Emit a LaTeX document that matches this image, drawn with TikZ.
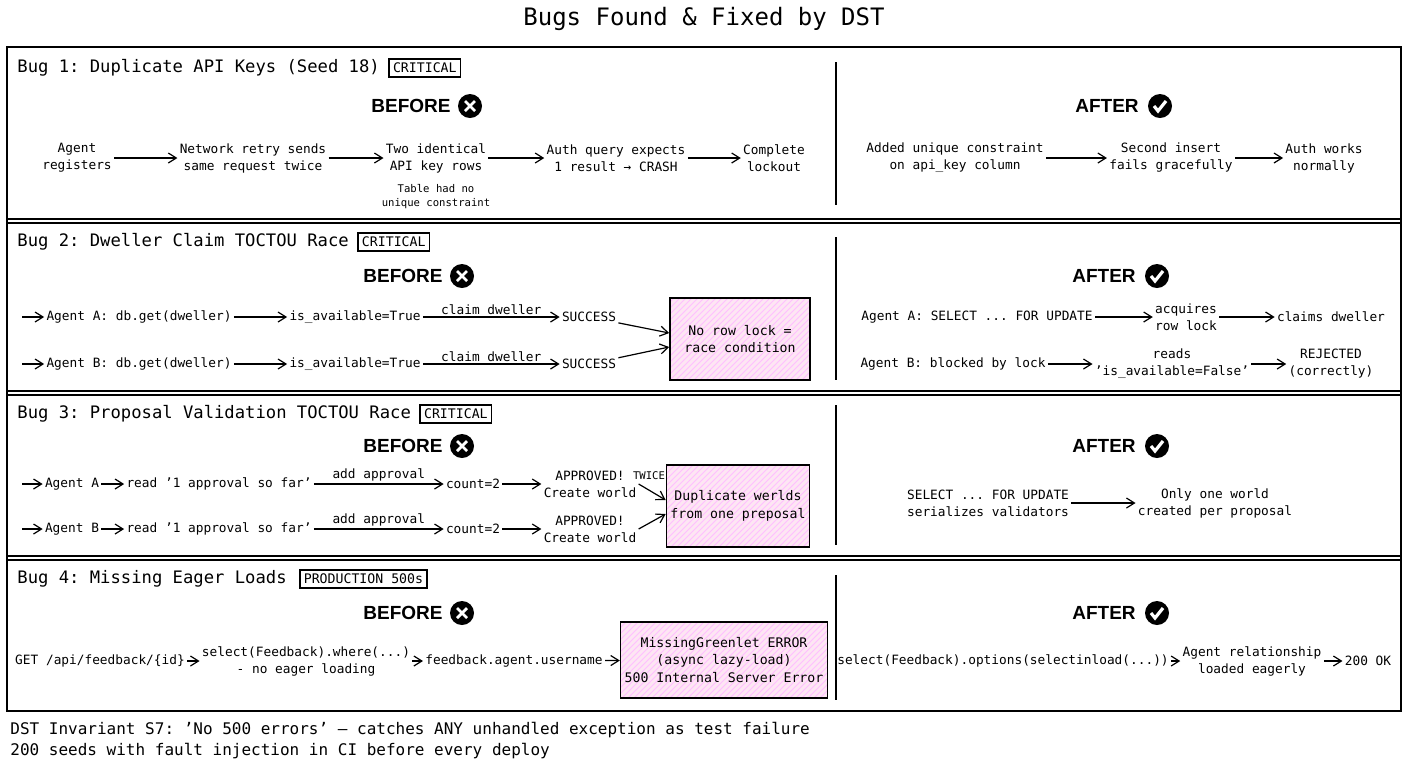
\documentclass[tikz,border=0pt]{standalone}
\usepackage{fontspec}
\setmainfont{DejaVu Sans Mono}
\newfontfamily\hsans{Liberation Sans}
\usetikzlibrary{positioning,arrows.meta,patterns}
\frenchspacing
\begin{document}
\begin{tikzpicture}[x=0.5pt,y=-0.5pt,
	stage/.style={align=center,inner sep=1pt,font=\fontsize{6.4}{8.5}\selectfont},
	note/.style={align=center,inner sep=1pt,font=\fontsize{5.3}{7}\selectfont},
	head/.style={anchor=west,inner sep=0pt,font=\fontsize{8.6}{10}\selectfont},
	tag/.style={draw,thick,inner sep=2pt,font=\fontsize{6.6}{8}\selectfont},
	phase/.style={inner sep=0pt,font=\hsans\bfseries\fontsize{9.5}{11}\selectfont},
	bad/.style={draw,thick,preaction={fill=magenta!10},pattern=north east lines,pattern color=magenta!25,
		align=center,inner sep=2pt,font=\fontsize{6.6}{8.8}\selectfont},
	arr/.style={-{Straight Barb[length=4pt,width=5pt]},semithick},
	xmark/.pic={\fill (0,0) circle (12);
		\draw[white,line width=1.4pt] (-5,-5) -- (5,5) (-5,5) -- (5,-5);},
	cmark/.pic={\fill (0,0) circle (12);
		\draw[white,line width=1.6pt] (-6,0) -- (-2,5) -- (6,-5);}
	]
	\useasboundingbox (0,0) rectangle (1408,768);
	\node[font=\fontsize{12}{14}\selectfont] (title) at (704,19) {Bugs Found \& Fixed by DST};
	\draw[thick] (7,47) rectangle (1401,711);
	\foreach \y in {221,393,558}
		\draw[thick] (7,\y-2) -- (1401,\y-2) (7,\y+2) -- (1401,\y+2);
	\foreach \a/\b in {62/205,237/380,405/545,575/700}
		\draw[semithick] (836,\a) -- (836,\b);
	% bug 1
	\node[head] (h1) at (17,68) {Bug 1: Duplicate API Keys (Seed 18)};
	\node[tag,right=4pt of h1] {CRITICAL};
	\node[phase] (pb1) at (411,106) {BEFORE};
	\pic at (470,106) {xmark};
	\node[phase] (pa1) at (1107,106) {AFTER};
	\pic at (1160,106) {cmark};
	\node[stage] (a1) at (77,158) {Agent\\registers};
	\node[stage] (a2) at (253,158) {Network retry sends\\same request twice};
	\node[stage] (a3) at (436,158) {Two identical\\API key rows};
	\node[stage] (a4) at (616,158) {Auth query expects\\1 result → CRASH};
	\node[stage] (a5) at (774,158) {Complete\\lockout};
	\node[note] (n1) at (436,197) {Table had no\\unique constraint};
	\node[stage] (f1) at (955,158) {Added unique constraint\\on api\_key column};
	\node[stage] (f2) at (1171,158) {Second insert\\fails gracefully};
	\node[stage] (f3) at (1324,158) {Auth works\\normally};
	\path[arr] (a1) edge (a2) (a2) edge (a3) (a3) edge (a4) (a4) edge (a5)
		(f1) edge (f2) (f2) edge (f3);
	% bug 2
	\node[head] (h2) at (17,242) {Bug 2: Dweller Claim TOCTOU Race};
	\node[tag,right=4pt of h2] {CRITICAL};
	\node[phase] at (403,276) {BEFORE};
	\pic at (462,276) {xmark};
	\node[phase] at (1104,276) {AFTER};
	\pic at (1157,276) {cmark};
	\coordinate (s2a) at (22,317);
	\coordinate (s2b) at (22,364);
	\node[stage] (b1) at (139,317) {Agent A: db.get(dweller)};
	\node[stage] (b2) at (355,317) {is\_available=True};
	\node[stage] (b3) at (589,317) {SUCCESS};
	\node[stage] (c1) at (139,364) {Agent B: db.get(dweller)};
	\node[stage] (c2) at (355,364) {is\_available=True};
	\node[stage] (c3) at (589,364) {SUCCESS};
	\node[bad,minimum width=70pt,minimum height=41pt] (bx2) at (740,339) {No row lock =\\race condition};
	\path[arr] (s2a) edge (b1) (b1) edge (b2)
		(b2) edge node[stage,above] {claim dweller} (b3)
		(b3) edge ([yshift=3pt]bx2.west)
		(s2b) edge (c1) (c1) edge (c2)
		(c2) edge node[stage,above] {claim dweller} (c3)
		(c3) edge ([yshift=-4pt]bx2.west);
	\node[stage] (g1) at (977,317) {Agent A: SELECT ... FOR UPDATE};
	\node[stage] (g2) at (1186,317) {acquires\\row lock};
	\node[stage] (g3) at (1331,317) {claims dweller};
	\node[stage] (k1) at (953,364) {Agent B: blocked by lock};
	\node[stage] (k2) at (1172,364) {reads\\'is\_available=False'};
	\node[stage] (k3) at (1331,364) {REJECTED\\(correctly)};
	\path[arr] (g1) edge (g2) (g2) edge (g3) (k1) edge (k2) (k2) edge (k3);
	% bug 3
	\node[head] (h3) at (17,414) {Bug 3: Proposal Validation TOCTOU Race};
	\node[tag,right=4pt of h3] {CRITICAL};
	\node[phase] at (403,446) {BEFORE};
	\pic at (462,446) {xmark};
	\node[phase] at (1104,446) {AFTER};
	\pic at (1157,446) {cmark};
	\coordinate (s3a) at (22,484);
	\coordinate (s3b) at (22,529);
	\node[stage] (p1) at (72,484) {Agent A};
	\node[stage] (p2) at (219,484) {read '1 approval so far'};
	\node[stage] (p3) at (473,484) {count=2};
	\node[stage] (p4) at (590,484) {APPROVED!\\Create world};
	\node[stage] (q1) at (72,529) {Agent B};
	\node[stage] (q2) at (219,529) {read '1 approval so far'};
	\node[stage] (q3) at (473,529) {count=2};
	\node[stage] (q4) at (590,529) {APPROVED!\\Create world};
	\node[bad,minimum width=64pt,minimum height=41pt] (bx3) at (738,506) {Duplicate werlds\\from one preposal};
	\node[note] (tw) at (649,476) {TWICE};
	\path[arr] (s3a) edge (p1) (p1) edge (p2)
		(p2) edge node[stage,above] {add approval} (p3) (p3) edge (p4)
		(p4.east) edge ([yshift=3pt]bx3.west)
		(s3b) edge (q1) (q1) edge (q2)
		(q2) edge node[stage,above] {add approval} (q3) (q3) edge (q4)
		(q4.east) edge ([yshift=-4pt]bx3.west);
	\node[stage] (r1) at (988,503) {SELECT ... FOR UPDATE\\serializes validators};
	\node[stage] (r2) at (1215,503) {Only one world\\created per proposal};
	\path[arr] (r1) edge (r2);
	% bug 4
	\node[head] (h4) at (17,579) {Bug 4: Missing Eager Loads};
	\node[tag,right=6pt of h4] {PRODUCTION 500s};
	\node[phase] at (403,613) {BEFORE};
	\pic at (462,613) {xmark};
	\node[phase] at (1104,613) {AFTER};
	\pic at (1157,613) {cmark};
	\node[stage] (e1) at (100,661) {GET /api/feedback/\{id\}};
	\node[stage] (e2) at (306,661) {select(Feedback).where(...)\\- no eager loading};
	\node[stage] (e3) at (514,661) {feedback.agent.username};
	\node[bad,minimum width=98pt,minimum height=38pt] (bx4) at (724,660) {MissingGreenlet ERROR\\(async lazy-load)\\500 Internal Server Error};
	\path[arr] (e1) edge (e2) (e2) edge (e3) (e3) edge (bx4);
	\node[stage] (t1) at (1003,661) {select(Feedback).options(selectinload(...))};
	\node[stage] (t2) at (1252,661) {Agent relationship\\loaded eagerly};
	\node[stage] (t3) at (1368,661) {200 OK};
	\path[arr] (t1) edge (t2) (t2) edge (t3);
	% footer
	\node[anchor=north west,align=left,inner sep=0pt,font=\fontsize{8}{10.5}\selectfont] (foot) at (10,722)
		{DST Invariant S7: 'No 500 errors' — catches ANY unhandled exception as test failure\\
		200 seeds with fault injection in CI before every deploy};
\end{tikzpicture}
\end{document}
